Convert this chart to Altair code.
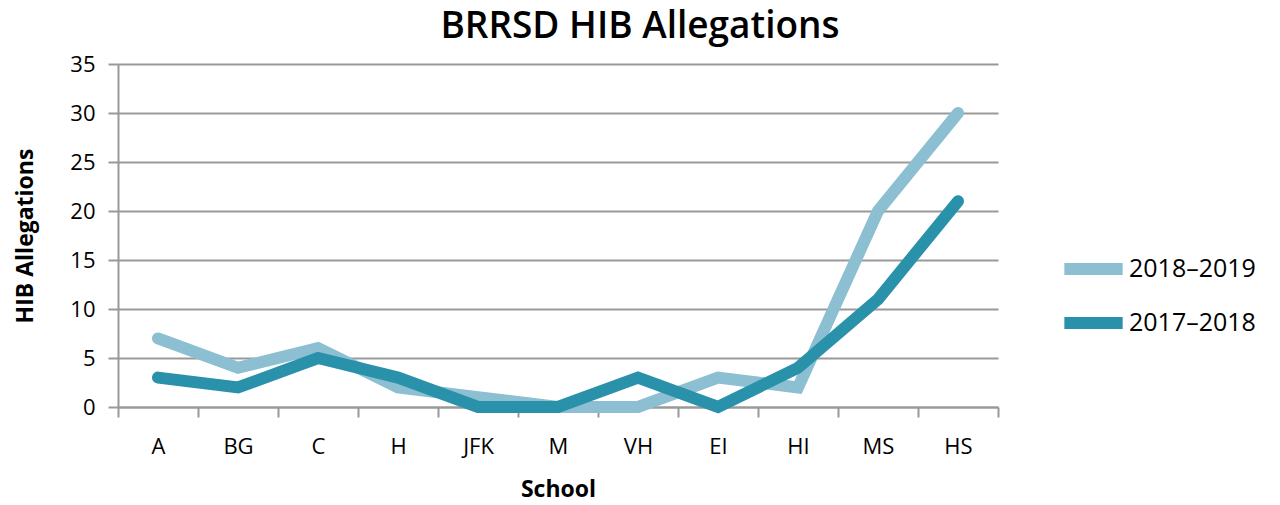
import altair as alt
import pandas as pd

schools = ["A", "BG", "C", "H", "JFK", "M", "VH", "EI", "HI", "MS", "HS"]
y2018_2019 = [7, 4, 6, 2, 1, 0, 0, 3, 2, 20, 30]
y2017_2018 = [3, 2, 5, 3, 0, 0, 3, 0, 4, 11, 21]
series = ["2018–2019", "2017–2018"]
colors = ["#8BBFD1", "#2A91AB"]

rows = []
for i, s in enumerate(schools):
    rows.append({"School": s, "Year": series[0], "Value": y2018_2019[i], "ord": 0})
for i, s in enumerate(schools):
    rows.append({"School": s, "Year": series[1], "Value": y2017_2018[i], "ord": 1})
df = pd.DataFrame(rows)

FONT = "Open Sans"

chart = alt.Chart(df).mark_line(strokeWidth=12, strokeCap="round", strokeJoin="miter").encode(
    x=alt.X("School:N", sort=schools, bandPosition=0.5,
            scale=alt.Scale(type="band", paddingInner=0, paddingOuter=0),
            axis=alt.Axis(title="School", labelAngle=0, tickBand="extent", grid=False,
                          tickSize=10, labelPadding=19, titlePadding=21)),
    y=alt.Y("Value:Q", scale=alt.Scale(domain=[0, 35], nice=False),
            axis=alt.Axis(title="HIB Allegations", values=[0, 5, 10, 15, 20, 25, 30, 35],
                          tickSize=10, labelPadding=13, titlePadding=32)),
    color=alt.Color("Year:N", scale=alt.Scale(domain=series, range=colors),
                    legend=alt.Legend(title=None, orient="none", legendX=940, legendY=190,
                                      symbolType="stroke", symbolSize=3400, symbolStrokeWidth=12,
                                      clipHeight=30,
                                      labelFontSize=25, labelFont=FONT, rowPadding=24,
                                      labelOffset=0)),
    detail="Year:N",
    order="ord:Q",
).properties(
    width=880, height=343,
    autosize=alt.AutoSizeParams(type="none"),
    padding={"left": 110, "top": 56, "right": 274, "bottom": 90},
    title=alt.Title("BRRSD HIB Allegations", fontSize=37, fontWeight=600, font=FONT,
                    color="#000000", dx=82, offset=7, anchor="middle"),
).configure_axis(
    labelFont=FONT, labelFontSize=22, labelColor="#000000",
    titleFont=FONT, titleFontSize=23, titleFontWeight="bold", titleColor="#000000",
    domainColor="#999999", domainWidth=2, tickColor="#999999", tickWidth=2,
    gridColor="#999999", gridWidth=2,
).configure_view(stroke=None)

chart.save("out.html", embed_options={"renderer": "svg", "actions": False})
